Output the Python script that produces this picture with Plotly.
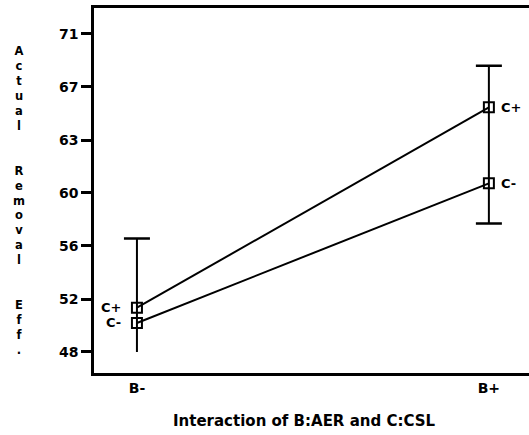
import plotly.graph_objects as go

# ---- data ----
categories = ["B-", "B+"]
c_plus = [51.2, 65.7]
c_minus = [50.1, 60.2]
lsd_low = [48.0, 57.3]
lsd_high = [56.2, 68.7]
has_low_cap = [False, True]
y_tickvals = [48.0, 51.83, 55.67, 59.5, 63.33, 67.17, 71.0]
y_ticktext = ["48", "52", "56", "60", "63", "67", "71"]
y_title_words = ["Actual", "Removal", "Eff."]
x_title = "Interaction of B:AER and C:CSL"

FONT = "DejaVu Sans"
W, H = 529, 435
ML, MR, MT, MB = 94, 0, 8, 62

fig = go.Figure()

# LSD bars (vertical segments)
for i, cat in enumerate(categories):
    fig.add_trace(go.Scatter(
        x=[cat, cat], y=[lsd_low[i], lsd_high[i]], mode="lines",
        line=dict(color="black", width=2), hoverinfo="skip", showlegend=False))

# caps (zero-length error bars give just the cross-bar)
cap_x = [c for c in categories] + [c for c, f in zip(categories, has_low_cap) if f]
cap_y = list(lsd_high) + [v for v, f in zip(lsd_low, has_low_cap) if f]
fig.add_trace(go.Scatter(
    x=cap_x, y=cap_y, mode="markers", marker=dict(size=1, opacity=0),
    error_y=dict(type="data", array=[0] * len(cap_x), color="black",
                 thickness=2.5, width=13),
    hoverinfo="skip", showlegend=False))

for vals, name in [(c_plus, "C+"), (c_minus, "C-")]:
    fig.add_trace(go.Scatter(
        x=categories, y=vals, mode="lines+markers", name=name,
        line=dict(color="black", width=2),
        marker=dict(symbol="square-open", size=10, color="black",
                    line=dict(width=2, color="black")),
        showlegend=False))

annotations = []
# series labels at the ends
for vals, name in [(c_plus, "C+"), (c_minus, "C-")]:
    annotations.append(dict(x=categories[0], y=vals[0], text=name, showarrow=False,
                            xanchor="right", xshift=-15, borderpad=0,
                            font=dict(family=FONT, size=13, color="black", weight="bold")))
    annotations.append(dict(x=categories[-1], y=vals[-1], text=name, showarrow=False,
                            xanchor="left", xshift=11, borderpad=0,
                            font=dict(family=FONT, size=13, color="black", weight="bold")))

# stacked vertical y title (one letter per line, blank lines between words)
stacked = "<br> <br> <br>".join("<br>".join(w) for w in y_title_words)
annotations.append(dict(xref="paper", yref="paper", x=0, y=0.5, xshift=-75, yshift=-10,
                        text=stacked, showarrow=False, xanchor="center", yanchor="middle",
                        align="center", borderpad=0,
                        font=dict(family=FONT, size=11.5, color="black", weight="bold")))

annotations.append(dict(xref="paper", yref="paper", x=0.5, y=0, xshift=-7, yshift=-48,
                        text=x_title, showarrow=False, xanchor="center", yanchor="middle",
                        borderpad=0,
                        font=dict(family=FONT, size=15, color="black", weight="bold")))

fig.update_layout(
    width=W, height=H,
    margin=dict(l=ML, r=MR, t=MT, b=MB, pad=0),
    paper_bgcolor="white", plot_bgcolor="white",
    annotations=annotations,
    xaxis=dict(type="category", range=[-0.122, 1.114], showgrid=False, zeroline=False,
               showline=True, mirror=True, linecolor="black", linewidth=2.5,
               ticks="", tickfont=dict(family=FONT, size=14, color="black", weight="bold")),
    yaxis=dict(range=[46.48, 72.88], showgrid=False, zeroline=False,
               showline=True, mirror=False, linecolor="black", linewidth=2.5,
               tickvals=y_tickvals, ticktext=y_ticktext,
               ticks="outside", ticklen=10, tickwidth=2.5, tickcolor="black",
               tickfont=dict(family=FONT, size=14, color="black", weight="bold")),
)

fig.write_html(
    "out.html",
    config={"displayModeBar": False},
    post_script="document.body.style.margin='0';document.body.style.overflow='hidden';",
)
